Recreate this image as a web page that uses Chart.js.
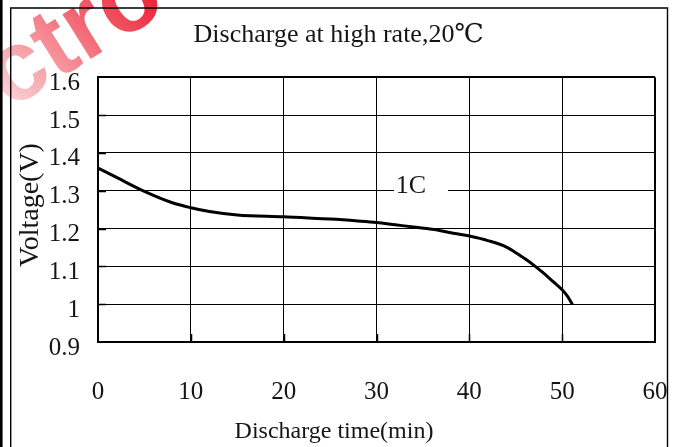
<!DOCTYPE html>
<html><head><meta charset="utf-8">
<script src="https://cdn.jsdelivr.net/npm/chart.js@4"></script>
<style>html,body{margin:0;padding:0;background:#fff}#wrap{width:680px;height:447px;position:relative}</style>
</head><body><div id="wrap"><canvas id="c"></canvas></div>
<script>
const chartTitle = 'Discharge at high rate,20℃';
const xAxisTitle = 'Discharge time(min)';
const yAxisTitle = 'Voltage(V)';
const seriesLabel = '1C';
const timeMin = [0, 2, 5, 8, 10, 12, 15, 20, 25, 28, 30, 32, 34, 36, 38, 40, 42, 44, 45, 46, 47, 48, 49, 50, 50.6, 51.1];
const voltage = [1.36, 1.335, 1.298, 1.268, 1.255, 1.245, 1.236, 1.231, 1.225, 1.220, 1.216, 1.210, 1.204, 1.198, 1.189, 1.18, 1.168, 1.151, 1.136, 1.12, 1.102, 1.082, 1.06, 1.038, 1.02, 0.999];
const xTickLabels = ['0', '10', '20', '30', '40', '50', '60'];
const yTickLabels = ['0.9', '1', '1.1', '1.2', '1.3', '1.4', '1.5', '1.6'];
const watermarkText = 'ectro';

const FONT = '"Liberation Serif", "DejaVu Serif", serif';
const INK = '#151515';

const decor = {
  id: 'decor',
  beforeDraw(chart) {
    const ctx = chart.ctx;
    ctx.save();
    ctx.fillStyle = '#fff';
    ctx.fillRect(0, 0, chart.width, chart.height);
    const off = document.createElement('canvas');
    off.width = chart.width; off.height = chart.height;
    const o = off.getContext('2d');
    const size = 100;
    o.font = 'bold ' + size + 'px "Liberation Sans", sans-serif';
    const wEc = o.measureText(watermarkText.slice(0, 2)).width;
    const wT = o.measureText('t').width;
    o.save();
    o.translate(52, 42);
    o.rotate(-32 * Math.PI / 180);
    o.fillStyle = 'rgb(235,20,40)';
    o.fillText(watermarkText, -(wEc + wT / 2), 0.35 * size);
    o.restore();
    o.globalCompositeOperation = 'destination-in';
    const g = o.createLinearGradient(180, 0, 0, 200);
    g.addColorStop(0, 'rgba(0,0,0,1)');
    g.addColorStop(0.35, 'rgba(0,0,0,0.6)');
    g.addColorStop(0.7, 'rgba(0,0,0,0.2)');
    g.addColorStop(1, 'rgba(0,0,0,0.06)');
    o.fillStyle = g;
    o.fillRect(0, 0, off.width, off.height);
    ctx.drawImage(off, 0, 0);
    ctx.restore();
  },
  afterDatasetsDraw(chart) {
    const ctx = chart.ctx;
    const xs = chart.scales.x, ys = chart.scales.y;
    ctx.save();
    ctx.strokeStyle = '#000';
    ctx.lineWidth = 1.5;
    ctx.beginPath();
    for (let i = 1; i < yTickLabels.length - 1; i++) {
      const py = Math.round(ys.getPixelForValue(0.9 + i * 0.1)) + 0.5;
      ctx.moveTo(chart.chartArea.left, py); ctx.lineTo(chart.chartArea.left + 8, py);
    }
    for (let i = 1; i < xTickLabels.length - 1; i++) {
      const px = Math.round(xs.getPixelForValue(i * 10)) + 0.5;
      ctx.moveTo(px, chart.chartArea.bottom); ctx.lineTo(px, chart.chartArea.bottom - 8);
    }
    ctx.stroke();
    const gy = ys.getPixelForValue(1.3);
    ctx.fillStyle = '#fff';
    ctx.fillRect(xs.getPixelForValue(31.9), gy - 4, xs.getPixelForValue(37.7) - xs.getPixelForValue(31.9), 8);
    ctx.fillStyle = INK;
    ctx.font = '26px ' + FONT;
    ctx.textAlign = 'center';
    ctx.textBaseline = 'middle';
    ctx.fillText(seriesLabel, xs.getPixelForValue(33.7), gy - 5);
    ctx.restore();
  },
  afterDraw(chart) {
    const ctx = chart.ctx;
    ctx.save();
    ctx.strokeStyle = '#000';
    ctx.lineWidth = 2.6;
    ctx.beginPath(); ctx.moveTo(1.3, 0); ctx.lineTo(1.3, chart.height); ctx.stroke();
    ctx.lineWidth = 1.4;
    ctx.beginPath();
    ctx.moveTo(10.7, chart.height); ctx.lineTo(10.7, 8); ctx.lineTo(667.5, 8); ctx.lineTo(667.5, chart.height);
    ctx.stroke();
    ctx.fillStyle = INK;
    ctx.textAlign = 'center';
    ctx.textBaseline = 'alphabetic';
    ctx.font = '24px ' + FONT;
    ctx.fillText(xAxisTitle, 334, 438);
    ctx.translate(38, 205);
    ctx.rotate(-Math.PI / 2);
    ctx.font = '28px ' + FONT;
    ctx.fillText(yAxisTitle, 0, 0);
    ctx.restore();
  }
};

const points = timeMin.map((t, i) => ({ x: t, y: voltage[i] }));

new Chart(document.getElementById('c'), {
  type: 'line',
  data: {
    datasets: [{
      label: seriesLabel,
      data: points,
      borderColor: '#000',
      borderWidth: 3,
      pointRadius: 0,
      fill: false,
      cubicInterpolationMode: 'monotone'
    }]
  },
  options: {
    responsive: true,
    maintainAspectRatio: false,
    animation: false,
    devicePixelRatio: 1,
    layout: { padding: { left: 22, right: 25, top: 0, bottom: 8 } },
    plugins: {
      legend: { display: false },
      tooltip: { enabled: false },
      title: {
        display: true,
        text: chartTitle,
        color: INK,
        font: { family: FONT, size: 26, weight: 'normal' },
        padding: { top: 20, bottom: 26 }
      }
    },
    scales: {
      x: {
        type: 'linear',
        min: 0, max: 60,
        afterFit: s => { s.height = 97; s.paddingLeft = 0; s.paddingRight = 0; },
        grid: {
          color: '#000',
          lineWidth: c => (c.index === xTickLabels.length - 1 ? 2 : 1),
          drawTicks: false
        },
        border: { display: true, width: 2, color: '#000' },
        ticks: {
          stepSize: 10,
          padding: 35,
          color: INK,
          maxRotation: 0,
          font: { family: FONT, size: 25 },
          callback: v => xTickLabels[Math.round(v / 10)]
        }
      },
      y: {
        min: 0.9, max: 1.6,
        afterFit: s => { s.width = 76; s.paddingTop = 0; s.paddingBottom = 0; },
        grid: {
          color: '#000',
          lineWidth: c => (c.index === yTickLabels.length - 1 ? 2 : 1),
          drawTicks: false
        },
        border: { display: true, width: 2, color: '#000' },
        ticks: {
          stepSize: 0.1,
          padding: 18,
          labelOffset: 6,
          color: INK,
          font: { family: FONT, size: 25 },
          callback: v => yTickLabels[Math.round((v - 0.9) * 10)]
        }
      }
    }
  },
  plugins: [decor]
});
</script>
</body></html>
